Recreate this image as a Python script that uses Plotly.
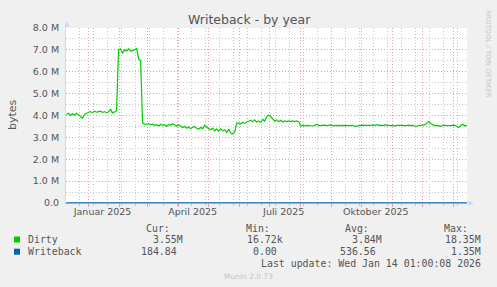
import plotly.graph_objects as go
import pandas as pd

# ---------------- data ----------------
start_date = "2024-12-10"
# Dirty bytes (in millions), one value every 2 days
dirty_m = [
    4.05, 4.10, 4.00, 4.08, 4.02, 4.10, 4.03, 3.95, 3.88, 4.05, 4.12, 4.15, 4.18,
    4.13, 4.20, 4.15, 4.18, 4.20, 4.14, 4.18, 4.12, 4.17, 4.28, 4.12, 4.16, 4.22,
    7.00, 7.05, 6.85, 7.00, 6.95, 7.05, 6.95, 6.98, 7.00, 7.08, 6.60, 6.50,
    3.65, 3.62, 3.60, 3.63, 3.58, 3.60, 3.55, 3.58, 3.52, 3.60, 3.55, 3.58, 3.50,
    3.60, 3.55, 3.62, 3.55, 3.52, 3.58, 3.50, 3.45, 3.50, 3.42, 3.48, 3.40, 3.45,
    3.50, 3.42, 3.38, 3.45, 3.40, 3.55, 3.45, 3.40, 3.35, 3.42, 3.30, 3.38, 3.28,
    3.40, 3.30, 3.35, 3.22, 3.38, 3.20, 3.15, 3.25,
    3.65, 3.65, 3.62, 3.68, 3.65, 3.70, 3.75, 3.78, 3.72, 3.80, 3.70, 3.75, 3.68,
    3.82, 3.75, 3.95, 4.02, 3.95, 3.85, 3.75, 3.80, 3.72, 3.78, 3.70, 3.75, 3.72,
    3.75, 3.72, 3.75, 3.72, 3.75, 3.70,
    3.52, 3.55, 3.53, 3.55, 3.54, 3.55, 3.52, 3.55, 3.60, 3.54,
    3.55, 3.53, 3.56, 3.54, 3.55, 3.57, 3.54, 3.55, 3.53, 3.55,
    3.54, 3.56, 3.55, 3.54, 3.55, 3.53, 3.55, 3.50, 3.52, 3.55,
    3.54, 3.56, 3.55, 3.54, 3.56, 3.55, 3.57, 3.55, 3.58, 3.55,
    3.56, 3.54, 3.57, 3.55, 3.56, 3.54, 3.55, 3.53, 3.55, 3.56,
    3.54, 3.55, 3.53, 3.55, 3.56, 3.54, 3.55, 3.52, 3.50, 3.55,
    3.54, 3.56, 3.58, 3.65, 3.72, 3.62, 3.56, 3.54, 3.55, 3.53,
    3.50, 3.55, 3.54, 3.56, 3.55, 3.54, 3.56, 3.55, 3.50, 3.45,
    3.55, 3.60, 3.52, 3.55,
]
dirty_dates = pd.date_range(start_date, periods=len(dirty_m), freq="2D")

# Writeback bytes (tiny, hugs the zero line)
writeback_dates = ["2024-12-10", "2025-01-10", "2025-02-10", "2025-03-10", "2025-04-10",
                   "2025-05-10", "2025-06-10", "2025-07-10", "2025-08-10", "2025-09-10",
                   "2025-10-10", "2025-11-10", "2025-12-10", "2026-01-14"]
writeback_b = [420, 610, 380, 550, 700, 480, 520, 590, 460, 510, 640, 530, 500, 560]

y_tick_vals_m = [0, 1, 2, 3, 4, 5, 6, 7, 8]
y_tick_labels = ["0.0", "1.0 M", "2.0 M", "3.0 M", "4.0 M", "5.0 M", "6.0 M", "7.0 M", "8.0 M"]
x_tick_dates = ["2025-01-15", "2025-04-15", "2025-07-15", "2025-10-15"]
x_tick_labels = ["Januar 2025", "April 2025", "Juli 2025", "Oktober 2025"]

series_names = ["Dirty", "Writeback"]
series_colors = ["#00CC00", "#0066B3"]
cur_vals = ["3.55M", "184.84"]
min_vals = ["16.72k", "0.00"]
avg_vals = ["3.84M", "536.56"]
max_vals = ["18.35M", "1.35M"]
col_heads = ["Cur:", "Min:", "Avg:", "Max:"]

# ---------------- layout helpers ----------------
W, H = 497, 287
L, R, T, B = 66, 30, 28, 84
PW, PH = W - L - R, H - T - B


def px(x):
    return (x - L) / PW


def py(y):
    return (H - B - y) / PH


TXT = "#555555"
MGRID = "#E6A0A0"
GRID = "#C6C6C6"
AXIS = "#CFD6F8"

x_range = ["2024-12-09 12:00", "2026-01-14 01:00"]

fig = go.Figure()
fig.add_trace(go.Scatter(
    x=writeback_dates, y=writeback_b, mode="lines", xaxis="x2", yaxis="y",
    line=dict(color=series_colors[1], width=1), showlegend=False, hoverinfo="skip"))
fig.add_trace(go.Scatter(
    x=writeback_dates, y=writeback_b, mode="lines", xaxis="x3", yaxis="y",
    line=dict(color=series_colors[1], width=1), showlegend=False, hoverinfo="skip"))
fig.add_trace(go.Scatter(
    x=dirty_dates, y=[v * 1e6 for v in dirty_m], mode="lines",
    line=dict(color=series_colors[0], width=1.2), showlegend=False))

fig.update_layout(
    width=W, height=H,
    margin=dict(l=L, r=R, t=T, b=B, pad=0),
    paper_bgcolor="#F0F0F0", plot_bgcolor="#FFFFFF",
    font=dict(family="DejaVu Sans", size=9.5, color=TXT),
    showlegend=False,
    # labelled axis
    xaxis=dict(
        type="date", range=x_range, tickmode="array", tickvals=x_tick_dates,
        ticktext=x_tick_labels, showgrid=False, ticks="", zeroline=False,
        showline=True, linecolor="#98A8E0", linewidth=1,
        tickfont=dict(size=9.5, color=TXT),
    ),
    # two-week minor grid
    xaxis2=dict(
        type="date", range=x_range, overlaying="x", side="bottom", anchor="y",
        tickmode="linear", tick0="2025-12-22", dtick=14 * 86400000,
        showgrid=True, gridcolor=GRID, griddash="1px,2px", gridwidth=1,
        ticks="outside", ticklen=2, tickcolor=GRID, showticklabels=False,
        showline=False, zeroline=False,
    ),
    # monthly major grid
    xaxis3=dict(
        type="date", range=x_range, overlaying="x", side="bottom", anchor="y",
        tickmode="linear", tick0="2025-01-01", dtick="M1",
        showgrid=True, gridcolor=MGRID, griddash="1px,2px", gridwidth=1,
        ticks="outside", ticklen=3, tickcolor=MGRID, showticklabels=False,
        showline=False, zeroline=False,
    ),
    yaxis=dict(
        range=[0, 8e6], tickmode="array", tickvals=[v * 1e6 for v in y_tick_vals_m],
        ticktext=y_tick_labels, showgrid=True, gridcolor=MGRID, griddash="1px,2px",
        gridwidth=1, zeroline=False, showline=True, linecolor=AXIS, linewidth=1,
        ticks="", tickfont=dict(size=9.5, color=TXT), ticklabelstandoff=4,
        minor=dict(dtick=0.5e6, tick0=0, showgrid=True, gridcolor=GRID,
                   griddash="1px,2px", gridwidth=1),
    ),
)

ann = []
ann.append(dict(x=px(249), y=py(19), text="Writeback - by year", showarrow=False,
                font=dict(size=12.5, color=TXT), xanchor="center", yanchor="middle"))
ann.append(dict(x=px(12), y=py(115), text="bytes", showarrow=False, textangle=-90,
                font=dict(size=11, color=TXT), xanchor="center", yanchor="middle"))
ann.append(dict(x=px(488), y=py(54), text="RRDTOOL / TOBI OETIKER", showarrow=False,
                textangle=90, font=dict(size=6.8, color="#C4C4C4"),
                xanchor="center", yanchor="middle"))
ann.append(dict(x=px(67), y=py(24), text="▲", showarrow=False,
                font=dict(size=7, color=AXIS), xanchor="center", yanchor="middle"))
ann.append(dict(x=px(470.5), y=py(203), text="▶", showarrow=False,
                font=dict(size=7, color=AXIS), xanchor="center", yanchor="middle"))

MONO = "DejaVu Sans Mono"
FS = 9.9
CW = 5.96
col_rights = [185, 285, 384, 483]
row_y = [239.5, 251.7]
for hx, head in zip(col_rights, col_heads):
    ann.append(dict(x=px(hx - 13), y=py(228), text=head, showarrow=False,
                    font=dict(family=MONO, size=FS, color=TXT),
                    xanchor="right", yanchor="middle"))
for i, name in enumerate(series_names):
    yv = row_y[i]
    ann.append(dict(x=px(26), y=py(yv), text=name, showarrow=False,
                    font=dict(family=MONO, size=FS, color=TXT),
                    xanchor="left", yanchor="middle"))
    for cx, vals in zip(col_rights, [cur_vals, min_vals, avg_vals, max_vals]):
        v = vals[i]
        shift = 0 if v[-1].isalpha() else CW
        ann.append(dict(x=px(cx - shift), y=py(yv), text=v, showarrow=False,
                        font=dict(family=MONO, size=FS, color=TXT),
                        xanchor="right", yanchor="middle"))
ann.append(dict(x=px(483), y=py(263), text="Last update: Wed Jan 14 01:00:08 2026",
                showarrow=False, font=dict(family=MONO, size=FS, color=TXT),
                xanchor="right", yanchor="middle"))
ann.append(dict(x=px(248), y=py(276.5), text="Munin 2.0.73", showarrow=False,
                font=dict(size=7.5, color="#C4C4C4"), xanchor="center", yanchor="middle"))
for a in ann:
    a["xref"] = "paper"
    a["yref"] = "paper"
fig.update_layout(annotations=ann)

shapes = []
for i, c in enumerate(series_colors):
    yv = row_y[i]
    shapes.append(dict(type="rect", xref="paper", yref="paper",
                       x0=px(14), x1=px(20), y0=py(yv - 3), y1=py(yv + 3),
                       fillcolor=c, line=dict(width=0)))
fig.update_layout(shapes=shapes)

fig.write_html("out.html")
